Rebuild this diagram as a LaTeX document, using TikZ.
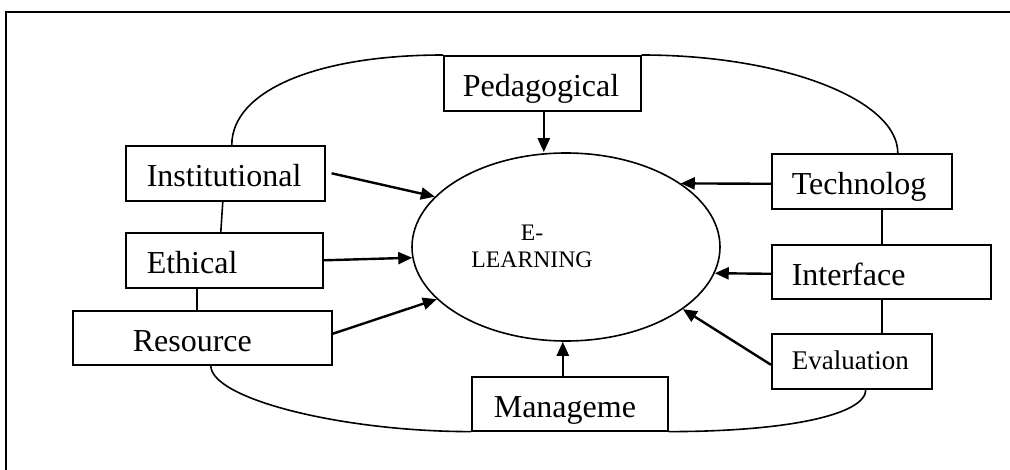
\documentclass[tikz,border=0pt]{standalone}
\usepackage{fontspec}
\setmainfont{Liberation Serif}
\usetikzlibrary{shapes.geometric,arrows.meta}
\begin{document}
\begin{tikzpicture}[x=1pt,y=-1pt,
  box/.style={draw, line width=1.6pt, rectangle, inner ysep=0pt, minimum height=55pt,
    anchor=north west, align=left, font=\fontsize{32}{38}\selectfont,
    text height=27pt, text depth=0pt},
  arr/.style={line width=2.4pt, -{Triangle[length=14pt,width=12pt]}},
  link/.style={line width=1.6pt},
]
\useasboundingbox (0,0) rectangle (1010,470);
% frame
\draw[line width=1.8pt] (6,470) -- (6,12) -- (1010,12);

% boxes
\node[box, inner xsep=19pt, text width=159pt] (ped) at (443,55) {Pedagogical};
\node[box, inner xsep=21pt, text width=157pt] (inst) at (125,145) {Institutional};
\node[box, inner xsep=21pt, text width=155pt] (eth) at (125,232) {Ethical};
\node[box, inner xsep=60pt, text width=139pt, minimum height=54pt] (res) at (72,310) {Resource};
\node[box, inner xsep=22pt, text width=152pt, minimum height=54pt] (man) at (471,376) {Manageme};
\node[box, inner xsep=20pt, text width=120pt, font=\fontsize{27}{32}\selectfont, text height=17pt] (eval) at (771,333) {Evaluation};
\node[box, inner xsep=20pt, text width=179pt, minimum height=54pt] (intf) at (771,244) {Interface};
\node[box, inner xsep=20pt, text width=140pt] (tech) at (771,153) {Technolog};

% centre
\node[draw, ellipse, line width=1.6pt, minimum width=308pt, minimum height=188pt, inner sep=0pt] (el) at (566,247) {};
\node[align=center, font=\fontsize{23.7}{27}\selectfont, anchor=base] (elt) at (532,268) {E-\\LEARNING};

% arrows
\draw[arr] ([xshift=1.5pt]ped.south) -- ([xshift=1.5pt]ped.south |- el.north);
\draw[arr] ([xshift=6pt]inst.east) -- (el.159);
\draw[arr] (eth.east) -- (el.184);
\draw[arr] ([yshift=4pt]res.east) -- (el.202.5);
\draw[arr] ([xshift=-7pt]man.north) -- ([xshift=-7pt]man.north |- el.south);
\draw[arr] ([yshift=-3.5pt]eval.west) -- (el.332);
\draw[arr] ([yshift=-2pt]intf.west) -- (el.350);
\draw[arr] ([yshift=-2.5pt]tech.west) -- (el.29);

% links
\draw[link] ([xshift=-2.5pt]inst.south) -- ([xshift=-3.5pt]eth.north);
\draw[link] ([xshift=-27.5pt]eth.south) -- ([xshift=-27.5pt]eth.south |- res.north);
\draw[link] ([xshift=20pt]tech.south) -- ([xshift=20pt]tech.south |- intf.north);
\draw[link] ([xshift=20pt]tech.south |- intf.south) -- ([xshift=20pt]tech.south |- eval.north);

% curves
\draw[link] ([xshift=6.5pt]inst.north) .. controls +(0,-54) and +(-127,0) .. (ped.north west);
\draw[link] (ped.north east) .. controls +(142,0) and +(0,-53) .. ([xshift=36pt]tech.north);
\draw[link] ([xshift=8.5pt]res.south) .. controls +(0,33) and +(-130,0) .. (man.south west);
\draw[link] (man.south east) .. controls +(119,0) and +(0,25) .. ([xshift=14pt]eval.south);
\end{tikzpicture}
\end{document}
